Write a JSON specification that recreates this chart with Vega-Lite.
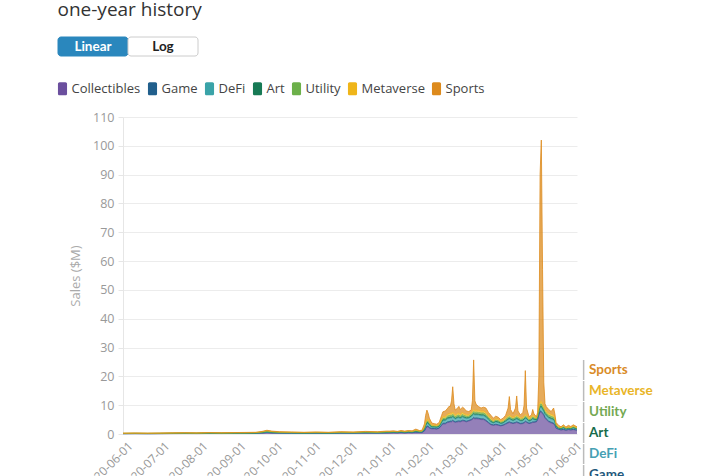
{
  "$schema": "https://vega.github.io/schema/vega-lite/v6.json",
  "padding": {"left": 56, "top": 0, "right": 5, "bottom": 0},
  "config": {"view": {"stroke": null}, "font": "Open Sans"},
  "spacing": 25,
  "columns": 1,
  "resolve": {"scale": {"color": "independent", "shape": "independent"}, "legend": {"color": "independent", "shape": "independent"}},
  "concat": [
    {
      "title": {"text": "one-year history", "anchor": "start", "fontSize": 19, "fontWeight": "normal", "color": "#333333", "font": "Open Sans", "offset": 17},
      "width": 140,
      "height": 19,
      "data": {"values": [{"scale": "Linear", "on": 1}, {"scale": "Log", "on": 0}]},
      "encoding": {"x": {"field": "scale", "type": "nominal", "sort": null, "axis": null, "scale": {"paddingInner": 0, "paddingOuter": 0}}},
      "layer": [
        {"mark": {"type": "rect", "cornerRadius": 3, "strokeWidth": 1, "xOffset": -65, "x2Offset": -65},
         "encoding": {
           "fill": {"condition": {"test": "datum.on == 1", "value": "#2a87bd"}, "value": "#ffffff"},
           "stroke": {"condition": {"test": "datum.on == 1", "value": "#2a87bd"}, "value": "#cccccc"}}},
        {"mark": {"type": "text", "font": "Lato", "fontWeight": "bold", "fontSize": 13.5, "dx": -65},
         "encoding": {
           "text": {"field": "scale"},
           "color": {"condition": {"test": "datum.on == 1", "value": "#ffffff"}, "value": "#222222"}}}
      ]
    },
    {
      "width": 454,
      "height": 317,
      "data": {"values": [
{"date":"2020-05-29","cat":"Collectibles","v":0.1},{"date":"2020-05-29","cat":"Game","v":0.02},{"date":"2020-05-29","cat":"DeFi","v":0.01},{"date":"2020-05-29","cat":"Art","v":0.05},{"date":"2020-05-29","cat":"Utility","v":0.03},{"date":"2020-05-29","cat":"Metaverse","v":0.05},{"date":"2020-05-29","cat":"Sports","v":0.04},
{"date":"2020-06-08","cat":"Collectibles","v":0.12},{"date":"2020-06-08","cat":"Game","v":0.02},{"date":"2020-06-08","cat":"DeFi","v":0.02},{"date":"2020-06-08","cat":"Art","v":0.05},{"date":"2020-06-08","cat":"Utility","v":0.03},{"date":"2020-06-08","cat":"Metaverse","v":0.05},{"date":"2020-06-08","cat":"Sports","v":0.06},
{"date":"2020-06-18","cat":"Collectibles","v":0.1},{"date":"2020-06-18","cat":"Game","v":0.02},{"date":"2020-06-18","cat":"DeFi","v":0.01},{"date":"2020-06-18","cat":"Art","v":0.05},{"date":"2020-06-18","cat":"Utility","v":0.03},{"date":"2020-06-18","cat":"Metaverse","v":0.05},{"date":"2020-06-18","cat":"Sports","v":0.04},
{"date":"2020-06-28","cat":"Collectibles","v":0.12},{"date":"2020-06-28","cat":"Game","v":0.02},{"date":"2020-06-28","cat":"DeFi","v":0.02},{"date":"2020-06-28","cat":"Art","v":0.05},{"date":"2020-06-28","cat":"Utility","v":0.03},{"date":"2020-06-28","cat":"Metaverse","v":0.05},{"date":"2020-06-28","cat":"Sports","v":0.06},
{"date":"2020-07-08","cat":"Collectibles","v":0.14},{"date":"2020-07-08","cat":"Game","v":0.03},{"date":"2020-07-08","cat":"DeFi","v":0.02},{"date":"2020-07-08","cat":"Art","v":0.06},{"date":"2020-07-08","cat":"Utility","v":0.03},{"date":"2020-07-08","cat":"Metaverse","v":0.06},{"date":"2020-07-08","cat":"Sports","v":0.06},
{"date":"2020-07-18","cat":"Collectibles","v":0.16},{"date":"2020-07-18","cat":"Game","v":0.03},{"date":"2020-07-18","cat":"DeFi","v":0.02},{"date":"2020-07-18","cat":"Art","v":0.07},{"date":"2020-07-18","cat":"Utility","v":0.04},{"date":"2020-07-18","cat":"Metaverse","v":0.07},{"date":"2020-07-18","cat":"Sports","v":0.06},
{"date":"2020-07-28","cat":"Collectibles","v":0.14},{"date":"2020-07-28","cat":"Game","v":0.03},{"date":"2020-07-28","cat":"DeFi","v":0.02},{"date":"2020-07-28","cat":"Art","v":0.06},{"date":"2020-07-28","cat":"Utility","v":0.03},{"date":"2020-07-28","cat":"Metaverse","v":0.06},{"date":"2020-07-28","cat":"Sports","v":0.06},
{"date":"2020-08-07","cat":"Collectibles","v":0.18},{"date":"2020-08-07","cat":"Game","v":0.03},{"date":"2020-08-07","cat":"DeFi","v":0.03},{"date":"2020-08-07","cat":"Art","v":0.08},{"date":"2020-08-07","cat":"Utility","v":0.04},{"date":"2020-08-07","cat":"Metaverse","v":0.08},{"date":"2020-08-07","cat":"Sports","v":0.06},
{"date":"2020-08-17","cat":"Collectibles","v":0.16},{"date":"2020-08-17","cat":"Game","v":0.03},{"date":"2020-08-17","cat":"DeFi","v":0.02},{"date":"2020-08-17","cat":"Art","v":0.07},{"date":"2020-08-17","cat":"Utility","v":0.04},{"date":"2020-08-17","cat":"Metaverse","v":0.07},{"date":"2020-08-17","cat":"Sports","v":0.06},
{"date":"2020-08-27","cat":"Collectibles","v":0.18},{"date":"2020-08-27","cat":"Game","v":0.03},{"date":"2020-08-27","cat":"DeFi","v":0.03},{"date":"2020-08-27","cat":"Art","v":0.08},{"date":"2020-08-27","cat":"Utility","v":0.04},{"date":"2020-08-27","cat":"Metaverse","v":0.08},{"date":"2020-08-27","cat":"Sports","v":0.06},
{"date":"2020-09-06","cat":"Collectibles","v":0.19},{"date":"2020-09-06","cat":"Game","v":0.04},{"date":"2020-09-06","cat":"DeFi","v":0.03},{"date":"2020-09-06","cat":"Art","v":0.08},{"date":"2020-09-06","cat":"Utility","v":0.04},{"date":"2020-09-06","cat":"Metaverse","v":0.08},{"date":"2020-09-06","cat":"Sports","v":0.09},
{"date":"2020-09-14","cat":"Collectibles","v":0.21},{"date":"2020-09-14","cat":"Game","v":0.04},{"date":"2020-09-14","cat":"DeFi","v":0.03},{"date":"2020-09-14","cat":"Art","v":0.09},{"date":"2020-09-14","cat":"Utility","v":0.05},{"date":"2020-09-14","cat":"Metaverse","v":0.09},{"date":"2020-09-14","cat":"Sports","v":0.09},
{"date":"2020-09-19","cat":"Collectibles","v":0.32},{"date":"2020-09-19","cat":"Game","v":0.06},{"date":"2020-09-19","cat":"DeFi","v":0.05},{"date":"2020-09-19","cat":"Art","v":0.13},{"date":"2020-09-19","cat":"Utility","v":0.07},{"date":"2020-09-19","cat":"Metaverse","v":0.14},{"date":"2020-09-19","cat":"Sports","v":0.13},
{"date":"2020-09-23","cat":"Collectibles","v":0.45},{"date":"2020-09-23","cat":"Game","v":0.09},{"date":"2020-09-23","cat":"DeFi","v":0.07},{"date":"2020-09-23","cat":"Art","v":0.2},{"date":"2020-09-23","cat":"Utility","v":0.1},{"date":"2020-09-23","cat":"Metaverse","v":0.2},{"date":"2020-09-23","cat":"Sports","v":0.19},
{"date":"2020-09-27","cat":"Collectibles","v":0.35},{"date":"2020-09-27","cat":"Game","v":0.07},{"date":"2020-09-27","cat":"DeFi","v":0.05},{"date":"2020-09-27","cat":"Art","v":0.15},{"date":"2020-09-27","cat":"Utility","v":0.08},{"date":"2020-09-27","cat":"Metaverse","v":0.15},{"date":"2020-09-27","cat":"Sports","v":0.15},
{"date":"2020-10-03","cat":"Collectibles","v":0.28},{"date":"2020-10-03","cat":"Game","v":0.05},{"date":"2020-10-03","cat":"DeFi","v":0.04},{"date":"2020-10-03","cat":"Art","v":0.12},{"date":"2020-10-03","cat":"Utility","v":0.06},{"date":"2020-10-03","cat":"Metaverse","v":0.12},{"date":"2020-10-03","cat":"Sports","v":0.13},
{"date":"2020-10-13","cat":"Collectibles","v":0.25},{"date":"2020-10-13","cat":"Game","v":0.05},{"date":"2020-10-13","cat":"DeFi","v":0.04},{"date":"2020-10-13","cat":"Art","v":0.1},{"date":"2020-10-13","cat":"Utility","v":0.06},{"date":"2020-10-13","cat":"Metaverse","v":0.1},{"date":"2020-10-13","cat":"Sports","v":0.1},
{"date":"2020-10-23","cat":"Collectibles","v":0.21},{"date":"2020-10-23","cat":"Game","v":0.04},{"date":"2020-10-23","cat":"DeFi","v":0.03},{"date":"2020-10-23","cat":"Art","v":0.09},{"date":"2020-10-23","cat":"Utility","v":0.05},{"date":"2020-10-23","cat":"Metaverse","v":0.09},{"date":"2020-10-23","cat":"Sports","v":0.09},
{"date":"2020-11-02","cat":"Collectibles","v":0.25},{"date":"2020-11-02","cat":"Game","v":0.05},{"date":"2020-11-02","cat":"DeFi","v":0.04},{"date":"2020-11-02","cat":"Art","v":0.1},{"date":"2020-11-02","cat":"Utility","v":0.06},{"date":"2020-11-02","cat":"Metaverse","v":0.1},{"date":"2020-11-02","cat":"Sports","v":0.1},
{"date":"2020-11-12","cat":"Collectibles","v":0.21},{"date":"2020-11-12","cat":"Game","v":0.04},{"date":"2020-11-12","cat":"DeFi","v":0.03},{"date":"2020-11-12","cat":"Art","v":0.09},{"date":"2020-11-12","cat":"Utility","v":0.05},{"date":"2020-11-12","cat":"Metaverse","v":0.09},{"date":"2020-11-12","cat":"Sports","v":0.09},
{"date":"2020-11-22","cat":"Collectibles","v":0.28},{"date":"2020-11-22","cat":"Game","v":0.05},{"date":"2020-11-22","cat":"DeFi","v":0.04},{"date":"2020-11-22","cat":"Art","v":0.12},{"date":"2020-11-22","cat":"Utility","v":0.06},{"date":"2020-11-22","cat":"Metaverse","v":0.12},{"date":"2020-11-22","cat":"Sports","v":0.13},
{"date":"2020-12-02","cat":"Collectibles","v":0.25},{"date":"2020-12-02","cat":"Game","v":0.05},{"date":"2020-12-02","cat":"DeFi","v":0.04},{"date":"2020-12-02","cat":"Art","v":0.1},{"date":"2020-12-02","cat":"Utility","v":0.06},{"date":"2020-12-02","cat":"Metaverse","v":0.1},{"date":"2020-12-02","cat":"Sports","v":0.1},
{"date":"2020-12-12","cat":"Collectibles","v":0.32},{"date":"2020-12-12","cat":"Game","v":0.06},{"date":"2020-12-12","cat":"DeFi","v":0.05},{"date":"2020-12-12","cat":"Art","v":0.13},{"date":"2020-12-12","cat":"Utility","v":0.07},{"date":"2020-12-12","cat":"Metaverse","v":0.14},{"date":"2020-12-12","cat":"Sports","v":0.13},
{"date":"2020-12-22","cat":"Collectibles","v":0.28},{"date":"2020-12-22","cat":"Game","v":0.05},{"date":"2020-12-22","cat":"DeFi","v":0.04},{"date":"2020-12-22","cat":"Art","v":0.12},{"date":"2020-12-22","cat":"Utility","v":0.06},{"date":"2020-12-22","cat":"Metaverse","v":0.12},{"date":"2020-12-22","cat":"Sports","v":0.13},
{"date":"2020-12-29","cat":"Collectibles","v":0.35},{"date":"2020-12-29","cat":"Game","v":0.07},{"date":"2020-12-29","cat":"DeFi","v":0.05},{"date":"2020-12-29","cat":"Art","v":0.15},{"date":"2020-12-29","cat":"Utility","v":0.08},{"date":"2020-12-29","cat":"Metaverse","v":0.15},{"date":"2020-12-29","cat":"Sports","v":0.15},
{"date":"2021-01-01","cat":"Collectibles","v":0.4},{"date":"2021-01-01","cat":"Game","v":0.04},{"date":"2021-01-01","cat":"DeFi","v":0.15},{"date":"2021-01-01","cat":"Art","v":0.05},{"date":"2021-01-01","cat":"Utility","v":0.09},{"date":"2021-01-01","cat":"Metaverse","v":0.1},{"date":"2021-01-01","cat":"Sports","v":0.17},
{"date":"2021-01-04","cat":"Collectibles","v":0.45},{"date":"2021-01-04","cat":"Game","v":0.04},{"date":"2021-01-04","cat":"DeFi","v":0.15},{"date":"2021-01-04","cat":"Art","v":0.05},{"date":"2021-01-04","cat":"Utility","v":0.09},{"date":"2021-01-04","cat":"Metaverse","v":0.1},{"date":"2021-01-04","cat":"Sports","v":0.22},
{"date":"2021-01-07","cat":"Collectibles","v":0.4},{"date":"2021-01-07","cat":"Game","v":0.04},{"date":"2021-01-07","cat":"DeFi","v":0.15},{"date":"2021-01-07","cat":"Art","v":0.05},{"date":"2021-01-07","cat":"Utility","v":0.09},{"date":"2021-01-07","cat":"Metaverse","v":0.1},{"date":"2021-01-07","cat":"Sports","v":0.07},
{"date":"2021-01-10","cat":"Collectibles","v":0.5},{"date":"2021-01-10","cat":"Game","v":0.05},{"date":"2021-01-10","cat":"DeFi","v":0.18},{"date":"2021-01-10","cat":"Art","v":0.06},{"date":"2021-01-10","cat":"Utility","v":0.1},{"date":"2021-01-10","cat":"Metaverse","v":0.12},{"date":"2021-01-10","cat":"Sports","v":0.19},
{"date":"2021-01-13","cat":"Collectibles","v":0.4},{"date":"2021-01-13","cat":"Game","v":0.04},{"date":"2021-01-13","cat":"DeFi","v":0.15},{"date":"2021-01-13","cat":"Art","v":0.05},{"date":"2021-01-13","cat":"Utility","v":0.09},{"date":"2021-01-13","cat":"Metaverse","v":0.1},{"date":"2021-01-13","cat":"Sports","v":0.17},
{"date":"2021-01-16","cat":"Collectibles","v":0.5},{"date":"2021-01-16","cat":"Game","v":0.05},{"date":"2021-01-16","cat":"DeFi","v":0.18},{"date":"2021-01-16","cat":"Art","v":0.06},{"date":"2021-01-16","cat":"Utility","v":0.1},{"date":"2021-01-16","cat":"Metaverse","v":0.12},{"date":"2021-01-16","cat":"Sports","v":0.19},
{"date":"2021-01-19","cat":"Collectibles","v":0.45},{"date":"2021-01-19","cat":"Game","v":0.04},{"date":"2021-01-19","cat":"DeFi","v":0.15},{"date":"2021-01-19","cat":"Art","v":0.05},{"date":"2021-01-19","cat":"Utility","v":0.09},{"date":"2021-01-19","cat":"Metaverse","v":0.1},{"date":"2021-01-19","cat":"Sports","v":0.22},
{"date":"2021-01-22","cat":"Collectibles","v":0.6},{"date":"2021-01-22","cat":"Game","v":0.06},{"date":"2021-01-22","cat":"DeFi","v":0.24},{"date":"2021-01-22","cat":"Art","v":0.08},{"date":"2021-01-22","cat":"Utility","v":0.14},{"date":"2021-01-22","cat":"Metaverse","v":0.16},{"date":"2021-01-22","cat":"Sports","v":0.42},
{"date":"2021-01-25","cat":"Collectibles","v":0.5},{"date":"2021-01-25","cat":"Game","v":0.05},{"date":"2021-01-25","cat":"DeFi","v":0.18},{"date":"2021-01-25","cat":"Art","v":0.06},{"date":"2021-01-25","cat":"Utility","v":0.1},{"date":"2021-01-25","cat":"Metaverse","v":0.12},{"date":"2021-01-25","cat":"Sports","v":0.19},
{"date":"2021-01-27","cat":"Collectibles","v":0.5},{"date":"2021-01-27","cat":"Game","v":0.05},{"date":"2021-01-27","cat":"DeFi","v":0.18},{"date":"2021-01-27","cat":"Art","v":0.06},{"date":"2021-01-27","cat":"Utility","v":0.1},{"date":"2021-01-27","cat":"Metaverse","v":0.12},{"date":"2021-01-27","cat":"Sports","v":0.29},
{"date":"2021-01-29","cat":"Collectibles","v":1.0},{"date":"2021-01-29","cat":"Game","v":0.12},{"date":"2021-01-29","cat":"DeFi","v":0.45},{"date":"2021-01-29","cat":"Art","v":0.15},{"date":"2021-01-29","cat":"Utility","v":0.26},{"date":"2021-01-29","cat":"Metaverse","v":0.3},{"date":"2021-01-29","cat":"Sports","v":1.22},
{"date":"2021-01-30","cat":"Collectibles","v":1.8},{"date":"2021-01-30","cat":"Game","v":0.2},{"date":"2021-01-30","cat":"DeFi","v":0.75},{"date":"2021-01-30","cat":"Art","v":0.25},{"date":"2021-01-30","cat":"Utility","v":0.43},{"date":"2021-01-30","cat":"Metaverse","v":0.5},{"date":"2021-01-30","cat":"Sports","v":2.57},
{"date":"2021-01-31","cat":"Collectibles","v":2.5},{"date":"2021-01-31","cat":"Game","v":0.24},{"date":"2021-01-31","cat":"DeFi","v":0.9},{"date":"2021-01-31","cat":"Art","v":0.3},{"date":"2021-01-31","cat":"Utility","v":0.51},{"date":"2021-01-31","cat":"Metaverse","v":0.6},{"date":"2021-01-31","cat":"Sports","v":3.25},
{"date":"2021-02-01","cat":"Collectibles","v":2.5},{"date":"2021-02-01","cat":"Game","v":0.24},{"date":"2021-02-01","cat":"DeFi","v":0.9},{"date":"2021-02-01","cat":"Art","v":0.3},{"date":"2021-02-01","cat":"Utility","v":0.51},{"date":"2021-02-01","cat":"Metaverse","v":0.6},{"date":"2021-02-01","cat":"Sports","v":2.15},
{"date":"2021-02-02","cat":"Collectibles","v":2.0},{"date":"2021-02-02","cat":"Game","v":0.2},{"date":"2021-02-02","cat":"DeFi","v":0.75},{"date":"2021-02-02","cat":"Art","v":0.25},{"date":"2021-02-02","cat":"Utility","v":0.43},{"date":"2021-02-02","cat":"Metaverse","v":0.5},{"date":"2021-02-02","cat":"Sports","v":1.37},
{"date":"2021-02-04","cat":"Collectibles","v":1.8},{"date":"2021-02-04","cat":"Game","v":0.12},{"date":"2021-02-04","cat":"DeFi","v":0.45},{"date":"2021-02-04","cat":"Art","v":0.15},{"date":"2021-02-04","cat":"Utility","v":0.26},{"date":"2021-02-04","cat":"Metaverse","v":0.3},{"date":"2021-02-04","cat":"Sports","v":0.72},
{"date":"2021-02-06","cat":"Collectibles","v":1.8},{"date":"2021-02-06","cat":"Game","v":0.12},{"date":"2021-02-06","cat":"DeFi","v":0.45},{"date":"2021-02-06","cat":"Art","v":0.15},{"date":"2021-02-06","cat":"Utility","v":0.26},{"date":"2021-02-06","cat":"Metaverse","v":0.3},{"date":"2021-02-06","cat":"Sports","v":0.52},
{"date":"2021-02-08","cat":"Collectibles","v":1.7},{"date":"2021-02-08","cat":"Game","v":0.12},{"date":"2021-02-08","cat":"DeFi","v":0.45},{"date":"2021-02-08","cat":"Art","v":0.15},{"date":"2021-02-08","cat":"Utility","v":0.26},{"date":"2021-02-08","cat":"Metaverse","v":0.3},{"date":"2021-02-08","cat":"Sports","v":0.42},
{"date":"2021-02-10","cat":"Collectibles","v":2.0},{"date":"2021-02-10","cat":"Game","v":0.12},{"date":"2021-02-10","cat":"DeFi","v":0.45},{"date":"2021-02-10","cat":"Art","v":0.15},{"date":"2021-02-10","cat":"Utility","v":0.26},{"date":"2021-02-10","cat":"Metaverse","v":0.3},{"date":"2021-02-10","cat":"Sports","v":0.72},
{"date":"2021-02-12","cat":"Collectibles","v":3.0},{"date":"2021-02-12","cat":"Game","v":0.2},{"date":"2021-02-12","cat":"DeFi","v":0.75},{"date":"2021-02-12","cat":"Art","v":0.25},{"date":"2021-02-12","cat":"Utility","v":0.43},{"date":"2021-02-12","cat":"Metaverse","v":0.5},{"date":"2021-02-12","cat":"Sports","v":1.37},
{"date":"2021-02-13","cat":"Collectibles","v":3.5},{"date":"2021-02-13","cat":"Game","v":0.24},{"date":"2021-02-13","cat":"DeFi","v":0.9},{"date":"2021-02-13","cat":"Art","v":0.3},{"date":"2021-02-13","cat":"Utility","v":0.51},{"date":"2021-02-13","cat":"Metaverse","v":0.6},{"date":"2021-02-13","cat":"Sports","v":1.65},
{"date":"2021-02-15","cat":"Collectibles","v":3.5},{"date":"2021-02-15","cat":"Game","v":0.24},{"date":"2021-02-15","cat":"DeFi","v":0.9},{"date":"2021-02-15","cat":"Art","v":0.3},{"date":"2021-02-15","cat":"Utility","v":0.51},{"date":"2021-02-15","cat":"Metaverse","v":0.6},{"date":"2021-02-15","cat":"Sports","v":1.95},
{"date":"2021-02-17","cat":"Collectibles","v":4.0},{"date":"2021-02-17","cat":"Game","v":0.28},{"date":"2021-02-17","cat":"DeFi","v":1.05},{"date":"2021-02-17","cat":"Art","v":0.35},{"date":"2021-02-17","cat":"Utility","v":0.6},{"date":"2021-02-17","cat":"Metaverse","v":0.7},{"date":"2021-02-17","cat":"Sports","v":2.02},
{"date":"2021-02-18","cat":"Collectibles","v":4.0},{"date":"2021-02-18","cat":"Game","v":0.28},{"date":"2021-02-18","cat":"DeFi","v":1.05},{"date":"2021-02-18","cat":"Art","v":0.35},{"date":"2021-02-18","cat":"Utility","v":0.6},{"date":"2021-02-18","cat":"Metaverse","v":0.7},{"date":"2021-02-18","cat":"Sports","v":2.62},
{"date":"2021-02-19","cat":"Collectibles","v":4.2},{"date":"2021-02-19","cat":"Game","v":0.28},{"date":"2021-02-19","cat":"DeFi","v":1.05},{"date":"2021-02-19","cat":"Art","v":0.35},{"date":"2021-02-19","cat":"Utility","v":0.6},{"date":"2021-02-19","cat":"Metaverse","v":0.7},{"date":"2021-02-19","cat":"Sports","v":2.32},
{"date":"2021-02-20","cat":"Collectibles","v":4.2},{"date":"2021-02-20","cat":"Game","v":0.28},{"date":"2021-02-20","cat":"DeFi","v":1.05},{"date":"2021-02-20","cat":"Art","v":0.35},{"date":"2021-02-20","cat":"Utility","v":0.6},{"date":"2021-02-20","cat":"Metaverse","v":0.7},{"date":"2021-02-20","cat":"Sports","v":4.32},
{"date":"2021-02-21","cat":"Collectibles","v":4.5},{"date":"2021-02-21","cat":"Game","v":0.28},{"date":"2021-02-21","cat":"DeFi","v":1.05},{"date":"2021-02-21","cat":"Art","v":0.35},{"date":"2021-02-21","cat":"Utility","v":0.6},{"date":"2021-02-21","cat":"Metaverse","v":0.7},{"date":"2021-02-21","cat":"Sports","v":8.92},
{"date":"2021-02-22","cat":"Collectibles","v":4.2},{"date":"2021-02-22","cat":"Game","v":0.28},{"date":"2021-02-22","cat":"DeFi","v":1.05},{"date":"2021-02-22","cat":"Art","v":0.35},{"date":"2021-02-22","cat":"Utility","v":0.6},{"date":"2021-02-22","cat":"Metaverse","v":0.7},{"date":"2021-02-22","cat":"Sports","v":3.32},
{"date":"2021-02-23","cat":"Collectibles","v":4.0},{"date":"2021-02-23","cat":"Game","v":0.24},{"date":"2021-02-23","cat":"DeFi","v":0.9},{"date":"2021-02-23","cat":"Art","v":0.3},{"date":"2021-02-23","cat":"Utility","v":0.51},{"date":"2021-02-23","cat":"Metaverse","v":0.6},{"date":"2021-02-23","cat":"Sports","v":1.75},
{"date":"2021-02-25","cat":"Collectibles","v":4.2},{"date":"2021-02-25","cat":"Game","v":0.28},{"date":"2021-02-25","cat":"DeFi","v":1.05},{"date":"2021-02-25","cat":"Art","v":0.35},{"date":"2021-02-25","cat":"Utility","v":0.6},{"date":"2021-02-25","cat":"Metaverse","v":0.7},{"date":"2021-02-25","cat":"Sports","v":1.82},
{"date":"2021-02-26","cat":"Collectibles","v":4.3},{"date":"2021-02-26","cat":"Game","v":0.28},{"date":"2021-02-26","cat":"DeFi","v":1.05},{"date":"2021-02-26","cat":"Art","v":0.35},{"date":"2021-02-26","cat":"Utility","v":0.6},{"date":"2021-02-26","cat":"Metaverse","v":0.7},{"date":"2021-02-26","cat":"Sports","v":2.32},
{"date":"2021-02-27","cat":"Collectibles","v":4.2},{"date":"2021-02-27","cat":"Game","v":0.24},{"date":"2021-02-27","cat":"DeFi","v":0.9},{"date":"2021-02-27","cat":"Art","v":0.3},{"date":"2021-02-27","cat":"Utility","v":0.51},{"date":"2021-02-27","cat":"Metaverse","v":0.6},{"date":"2021-02-27","cat":"Sports","v":1.75},
{"date":"2021-03-01","cat":"Collectibles","v":4.5},{"date":"2021-03-01","cat":"Game","v":0.28},{"date":"2021-03-01","cat":"DeFi","v":1.05},{"date":"2021-03-01","cat":"Art","v":0.35},{"date":"2021-03-01","cat":"Utility","v":0.6},{"date":"2021-03-01","cat":"Metaverse","v":0.7},{"date":"2021-03-01","cat":"Sports","v":1.82},
{"date":"2021-03-02","cat":"Collectibles","v":4.5},{"date":"2021-03-02","cat":"Game","v":0.24},{"date":"2021-03-02","cat":"DeFi","v":0.9},{"date":"2021-03-02","cat":"Art","v":0.3},{"date":"2021-03-02","cat":"Utility","v":0.51},{"date":"2021-03-02","cat":"Metaverse","v":0.6},{"date":"2021-03-02","cat":"Sports","v":1.95},
{"date":"2021-03-04","cat":"Collectibles","v":4.2},{"date":"2021-03-04","cat":"Game","v":0.24},{"date":"2021-03-04","cat":"DeFi","v":0.9},{"date":"2021-03-04","cat":"Art","v":0.3},{"date":"2021-03-04","cat":"Utility","v":0.51},{"date":"2021-03-04","cat":"Metaverse","v":0.6},{"date":"2021-03-04","cat":"Sports","v":1.25},
{"date":"2021-03-06","cat":"Collectibles","v":4.5},{"date":"2021-03-06","cat":"Game","v":0.2},{"date":"2021-03-06","cat":"DeFi","v":0.75},{"date":"2021-03-06","cat":"Art","v":0.25},{"date":"2021-03-06","cat":"Utility","v":0.43},{"date":"2021-03-06","cat":"Metaverse","v":0.5},{"date":"2021-03-06","cat":"Sports","v":1.17},
{"date":"2021-03-08","cat":"Collectibles","v":4.8},{"date":"2021-03-08","cat":"Game","v":0.24},{"date":"2021-03-08","cat":"DeFi","v":0.9},{"date":"2021-03-08","cat":"Art","v":0.3},{"date":"2021-03-08","cat":"Utility","v":0.51},{"date":"2021-03-08","cat":"Metaverse","v":0.6},{"date":"2021-03-08","cat":"Sports","v":0.95},
{"date":"2021-03-09","cat":"Collectibles","v":5.0},{"date":"2021-03-09","cat":"Game","v":0.28},{"date":"2021-03-09","cat":"DeFi","v":1.05},{"date":"2021-03-09","cat":"Art","v":0.35},{"date":"2021-03-09","cat":"Utility","v":0.6},{"date":"2021-03-09","cat":"Metaverse","v":0.7},{"date":"2021-03-09","cat":"Sports","v":3.52},
{"date":"2021-03-10","cat":"Collectibles","v":5.5},{"date":"2021-03-10","cat":"Game","v":0.28},{"date":"2021-03-10","cat":"DeFi","v":1.05},{"date":"2021-03-10","cat":"Art","v":0.35},{"date":"2021-03-10","cat":"Utility","v":0.6},{"date":"2021-03-10","cat":"Metaverse","v":0.7},{"date":"2021-03-10","cat":"Sports","v":17.22},
{"date":"2021-03-11","cat":"Collectibles","v":5.2},{"date":"2021-03-11","cat":"Game","v":0.28},{"date":"2021-03-11","cat":"DeFi","v":1.05},{"date":"2021-03-11","cat":"Art","v":0.35},{"date":"2021-03-11","cat":"Utility","v":0.6},{"date":"2021-03-11","cat":"Metaverse","v":0.7},{"date":"2021-03-11","cat":"Sports","v":3.32},
{"date":"2021-03-12","cat":"Collectibles","v":5.3},{"date":"2021-03-12","cat":"Game","v":0.28},{"date":"2021-03-12","cat":"DeFi","v":1.05},{"date":"2021-03-12","cat":"Art","v":0.35},{"date":"2021-03-12","cat":"Utility","v":0.6},{"date":"2021-03-12","cat":"Metaverse","v":0.7},{"date":"2021-03-12","cat":"Sports","v":2.02},
{"date":"2021-03-14","cat":"Collectibles","v":5.2},{"date":"2021-03-14","cat":"Game","v":0.28},{"date":"2021-03-14","cat":"DeFi","v":1.05},{"date":"2021-03-14","cat":"Art","v":0.35},{"date":"2021-03-14","cat":"Utility","v":0.6},{"date":"2021-03-14","cat":"Metaverse","v":0.7},{"date":"2021-03-14","cat":"Sports","v":1.32},
{"date":"2021-03-16","cat":"Collectibles","v":5.0},{"date":"2021-03-16","cat":"Game","v":0.28},{"date":"2021-03-16","cat":"DeFi","v":1.05},{"date":"2021-03-16","cat":"Art","v":0.35},{"date":"2021-03-16","cat":"Utility","v":0.6},{"date":"2021-03-16","cat":"Metaverse","v":0.7},{"date":"2021-03-16","cat":"Sports","v":1.02},
{"date":"2021-03-18","cat":"Collectibles","v":5.0},{"date":"2021-03-18","cat":"Game","v":0.28},{"date":"2021-03-18","cat":"DeFi","v":1.05},{"date":"2021-03-18","cat":"Art","v":0.35},{"date":"2021-03-18","cat":"Utility","v":0.6},{"date":"2021-03-18","cat":"Metaverse","v":0.7},{"date":"2021-03-18","cat":"Sports","v":1.32},
{"date":"2021-03-20","cat":"Collectibles","v":4.5},{"date":"2021-03-20","cat":"Game","v":0.28},{"date":"2021-03-20","cat":"DeFi","v":1.05},{"date":"2021-03-20","cat":"Art","v":0.35},{"date":"2021-03-20","cat":"Utility","v":0.6},{"date":"2021-03-20","cat":"Metaverse","v":0.7},{"date":"2021-03-20","cat":"Sports","v":1.52},
{"date":"2021-03-22","cat":"Collectibles","v":3.8},{"date":"2021-03-22","cat":"Game","v":0.24},{"date":"2021-03-22","cat":"DeFi","v":0.9},{"date":"2021-03-22","cat":"Art","v":0.3},{"date":"2021-03-22","cat":"Utility","v":0.51},{"date":"2021-03-22","cat":"Metaverse","v":0.6},{"date":"2021-03-22","cat":"Sports","v":1.15},
{"date":"2021-03-24","cat":"Collectibles","v":3.2},{"date":"2021-03-24","cat":"Game","v":0.2},{"date":"2021-03-24","cat":"DeFi","v":0.75},{"date":"2021-03-24","cat":"Art","v":0.25},{"date":"2021-03-24","cat":"Utility","v":0.43},{"date":"2021-03-24","cat":"Metaverse","v":0.5},{"date":"2021-03-24","cat":"Sports","v":1.17},
{"date":"2021-03-26","cat":"Collectibles","v":3.0},{"date":"2021-03-26","cat":"Game","v":0.16},{"date":"2021-03-26","cat":"DeFi","v":0.6},{"date":"2021-03-26","cat":"Art","v":0.2},{"date":"2021-03-26","cat":"Utility","v":0.34},{"date":"2021-03-26","cat":"Metaverse","v":0.4},{"date":"2021-03-26","cat":"Sports","v":0.8},
{"date":"2021-03-28","cat":"Collectibles","v":3.2},{"date":"2021-03-28","cat":"Game","v":0.2},{"date":"2021-03-28","cat":"DeFi","v":0.75},{"date":"2021-03-28","cat":"Art","v":0.25},{"date":"2021-03-28","cat":"Utility","v":0.43},{"date":"2021-03-28","cat":"Metaverse","v":0.5},{"date":"2021-03-28","cat":"Sports","v":0.87},
{"date":"2021-03-30","cat":"Collectibles","v":3.0},{"date":"2021-03-30","cat":"Game","v":0.2},{"date":"2021-03-30","cat":"DeFi","v":0.75},{"date":"2021-03-30","cat":"Art","v":0.25},{"date":"2021-03-30","cat":"Utility","v":0.43},{"date":"2021-03-30","cat":"Metaverse","v":0.5},{"date":"2021-03-30","cat":"Sports","v":0.67},
{"date":"2021-04-01","cat":"Collectibles","v":2.8},{"date":"2021-04-01","cat":"Game","v":0.16},{"date":"2021-04-01","cat":"DeFi","v":0.6},{"date":"2021-04-01","cat":"Art","v":0.2},{"date":"2021-04-01","cat":"Utility","v":0.34},{"date":"2021-04-01","cat":"Metaverse","v":0.4},{"date":"2021-04-01","cat":"Sports","v":0.5},
{"date":"2021-04-03","cat":"Collectibles","v":3.0},{"date":"2021-04-03","cat":"Game","v":0.16},{"date":"2021-04-03","cat":"DeFi","v":0.6},{"date":"2021-04-03","cat":"Art","v":0.2},{"date":"2021-04-03","cat":"Utility","v":0.34},{"date":"2021-04-03","cat":"Metaverse","v":0.4},{"date":"2021-04-03","cat":"Sports","v":0.8},
{"date":"2021-04-05","cat":"Collectibles","v":3.4},{"date":"2021-04-05","cat":"Game","v":0.2},{"date":"2021-04-05","cat":"DeFi","v":0.75},{"date":"2021-04-05","cat":"Art","v":0.25},{"date":"2021-04-05","cat":"Utility","v":0.43},{"date":"2021-04-05","cat":"Metaverse","v":0.5},{"date":"2021-04-05","cat":"Sports","v":0.97},
{"date":"2021-04-07","cat":"Collectibles","v":3.8},{"date":"2021-04-07","cat":"Game","v":0.24},{"date":"2021-04-07","cat":"DeFi","v":0.9},{"date":"2021-04-07","cat":"Art","v":0.3},{"date":"2021-04-07","cat":"Utility","v":0.51},{"date":"2021-04-07","cat":"Metaverse","v":0.6},{"date":"2021-04-07","cat":"Sports","v":2.65},
{"date":"2021-04-08","cat":"Collectibles","v":4.0},{"date":"2021-04-08","cat":"Game","v":0.24},{"date":"2021-04-08","cat":"DeFi","v":0.9},{"date":"2021-04-08","cat":"Art","v":0.3},{"date":"2021-04-08","cat":"Utility","v":0.51},{"date":"2021-04-08","cat":"Metaverse","v":0.6},{"date":"2021-04-08","cat":"Sports","v":6.45},
{"date":"2021-04-09","cat":"Collectibles","v":3.8},{"date":"2021-04-09","cat":"Game","v":0.24},{"date":"2021-04-09","cat":"DeFi","v":0.9},{"date":"2021-04-09","cat":"Art","v":0.3},{"date":"2021-04-09","cat":"Utility","v":0.51},{"date":"2021-04-09","cat":"Metaverse","v":0.6},{"date":"2021-04-09","cat":"Sports","v":2.15},
{"date":"2021-04-11","cat":"Collectibles","v":3.6},{"date":"2021-04-11","cat":"Game","v":0.2},{"date":"2021-04-11","cat":"DeFi","v":0.75},{"date":"2021-04-11","cat":"Art","v":0.25},{"date":"2021-04-11","cat":"Utility","v":0.43},{"date":"2021-04-11","cat":"Metaverse","v":0.5},{"date":"2021-04-11","cat":"Sports","v":1.27},
{"date":"2021-04-13","cat":"Collectibles","v":3.8},{"date":"2021-04-13","cat":"Game","v":0.24},{"date":"2021-04-13","cat":"DeFi","v":0.9},{"date":"2021-04-13","cat":"Art","v":0.3},{"date":"2021-04-13","cat":"Utility","v":0.51},{"date":"2021-04-13","cat":"Metaverse","v":0.6},{"date":"2021-04-13","cat":"Sports","v":2.65},
{"date":"2021-04-14","cat":"Collectibles","v":4.0},{"date":"2021-04-14","cat":"Game","v":0.24},{"date":"2021-04-14","cat":"DeFi","v":0.9},{"date":"2021-04-14","cat":"Art","v":0.3},{"date":"2021-04-14","cat":"Utility","v":0.51},{"date":"2021-04-14","cat":"Metaverse","v":0.6},{"date":"2021-04-14","cat":"Sports","v":6.65},
{"date":"2021-04-15","cat":"Collectibles","v":3.8},{"date":"2021-04-15","cat":"Game","v":0.24},{"date":"2021-04-15","cat":"DeFi","v":0.9},{"date":"2021-04-15","cat":"Art","v":0.3},{"date":"2021-04-15","cat":"Utility","v":0.51},{"date":"2021-04-15","cat":"Metaverse","v":0.6},{"date":"2021-04-15","cat":"Sports","v":1.65},
{"date":"2021-04-17","cat":"Collectibles","v":3.5},{"date":"2021-04-17","cat":"Game","v":0.2},{"date":"2021-04-17","cat":"DeFi","v":0.75},{"date":"2021-04-17","cat":"Art","v":0.25},{"date":"2021-04-17","cat":"Utility","v":0.43},{"date":"2021-04-17","cat":"Metaverse","v":0.5},{"date":"2021-04-17","cat":"Sports","v":0.97},
{"date":"2021-04-19","cat":"Collectibles","v":3.6},{"date":"2021-04-19","cat":"Game","v":0.2},{"date":"2021-04-19","cat":"DeFi","v":0.75},{"date":"2021-04-19","cat":"Art","v":0.25},{"date":"2021-04-19","cat":"Utility","v":0.43},{"date":"2021-04-19","cat":"Metaverse","v":0.5},{"date":"2021-04-19","cat":"Sports","v":1.77},
{"date":"2021-04-20","cat":"Collectibles","v":3.8},{"date":"2021-04-20","cat":"Game","v":0.24},{"date":"2021-04-20","cat":"DeFi","v":0.9},{"date":"2021-04-20","cat":"Art","v":0.3},{"date":"2021-04-20","cat":"Utility","v":0.51},{"date":"2021-04-20","cat":"Metaverse","v":0.6},{"date":"2021-04-20","cat":"Sports","v":3.65},
{"date":"2021-04-21","cat":"Collectibles","v":4.2},{"date":"2021-04-21","cat":"Game","v":0.24},{"date":"2021-04-21","cat":"DeFi","v":0.9},{"date":"2021-04-21","cat":"Art","v":0.3},{"date":"2021-04-21","cat":"Utility","v":0.51},{"date":"2021-04-21","cat":"Metaverse","v":0.6},{"date":"2021-04-21","cat":"Sports","v":15.25},
{"date":"2021-04-22","cat":"Collectibles","v":4.0},{"date":"2021-04-22","cat":"Game","v":0.24},{"date":"2021-04-22","cat":"DeFi","v":0.9},{"date":"2021-04-22","cat":"Art","v":0.3},{"date":"2021-04-22","cat":"Utility","v":0.51},{"date":"2021-04-22","cat":"Metaverse","v":0.6},{"date":"2021-04-22","cat":"Sports","v":2.45},
{"date":"2021-04-24","cat":"Collectibles","v":3.6},{"date":"2021-04-24","cat":"Game","v":0.16},{"date":"2021-04-24","cat":"DeFi","v":0.6},{"date":"2021-04-24","cat":"Art","v":0.2},{"date":"2021-04-24","cat":"Utility","v":0.34},{"date":"2021-04-24","cat":"Metaverse","v":0.4},{"date":"2021-04-24","cat":"Sports","v":0.7},
{"date":"2021-04-26","cat":"Collectibles","v":3.8},{"date":"2021-04-26","cat":"Game","v":0.2},{"date":"2021-04-26","cat":"DeFi","v":0.75},{"date":"2021-04-26","cat":"Art","v":0.25},{"date":"2021-04-26","cat":"Utility","v":0.43},{"date":"2021-04-26","cat":"Metaverse","v":0.5},{"date":"2021-04-26","cat":"Sports","v":0.67},
{"date":"2021-04-27","cat":"Collectibles","v":4.0},{"date":"2021-04-27","cat":"Game","v":0.24},{"date":"2021-04-27","cat":"DeFi","v":0.9},{"date":"2021-04-27","cat":"Art","v":0.3},{"date":"2021-04-27","cat":"Utility","v":0.51},{"date":"2021-04-27","cat":"Metaverse","v":0.6},{"date":"2021-04-27","cat":"Sports","v":1.95},
{"date":"2021-04-28","cat":"Collectibles","v":4.0},{"date":"2021-04-28","cat":"Game","v":0.2},{"date":"2021-04-28","cat":"DeFi","v":0.75},{"date":"2021-04-28","cat":"Art","v":0.25},{"date":"2021-04-28","cat":"Utility","v":0.43},{"date":"2021-04-28","cat":"Metaverse","v":0.5},{"date":"2021-04-28","cat":"Sports","v":0.87},
{"date":"2021-04-30","cat":"Collectibles","v":4.2},{"date":"2021-04-30","cat":"Game","v":0.12},{"date":"2021-04-30","cat":"DeFi","v":0.45},{"date":"2021-04-30","cat":"Art","v":0.15},{"date":"2021-04-30","cat":"Utility","v":0.26},{"date":"2021-04-30","cat":"Metaverse","v":0.3},{"date":"2021-04-30","cat":"Sports","v":0.52},
{"date":"2021-05-01","cat":"Collectibles","v":5.0},{"date":"2021-05-01","cat":"Game","v":0.16},{"date":"2021-05-01","cat":"DeFi","v":0.6},{"date":"2021-05-01","cat":"Art","v":0.2},{"date":"2021-05-01","cat":"Utility","v":0.34},{"date":"2021-05-01","cat":"Metaverse","v":0.4},{"date":"2021-05-01","cat":"Sports","v":0.8},
{"date":"2021-05-02","cat":"Collectibles","v":6.5},{"date":"2021-05-02","cat":"Game","v":0.24},{"date":"2021-05-02","cat":"DeFi","v":0.9},{"date":"2021-05-02","cat":"Art","v":0.3},{"date":"2021-05-02","cat":"Utility","v":0.51},{"date":"2021-05-02","cat":"Metaverse","v":0.6},{"date":"2021-05-02","cat":"Sports","v":10.95},
{"date":"2021-05-03","cat":"Collectibles","v":7.7},{"date":"2021-05-03","cat":"Game","v":0.32},{"date":"2021-05-03","cat":"DeFi","v":1.2},{"date":"2021-05-03","cat":"Art","v":0.4},{"date":"2021-05-03","cat":"Utility","v":0.68},{"date":"2021-05-03","cat":"Metaverse","v":0.8},{"date":"2021-05-03","cat":"Sports","v":78.9},
{"date":"2021-05-04","cat":"Collectibles","v":7.5},{"date":"2021-05-04","cat":"Game","v":0.36},{"date":"2021-05-04","cat":"DeFi","v":1.35},{"date":"2021-05-04","cat":"Art","v":0.45},{"date":"2021-05-04","cat":"Utility","v":0.77},{"date":"2021-05-04","cat":"Metaverse","v":0.9},{"date":"2021-05-04","cat":"Sports","v":90.67},
{"date":"2021-05-05","cat":"Collectibles","v":7.0},{"date":"2021-05-05","cat":"Game","v":0.32},{"date":"2021-05-05","cat":"DeFi","v":1.2},{"date":"2021-05-05","cat":"Art","v":0.4},{"date":"2021-05-05","cat":"Utility","v":0.68},{"date":"2021-05-05","cat":"Metaverse","v":0.8},{"date":"2021-05-05","cat":"Sports","v":46.6},
{"date":"2021-05-06","cat":"Collectibles","v":6.5},{"date":"2021-05-06","cat":"Game","v":0.28},{"date":"2021-05-06","cat":"DeFi","v":1.05},{"date":"2021-05-06","cat":"Art","v":0.35},{"date":"2021-05-06","cat":"Utility","v":0.6},{"date":"2021-05-06","cat":"Metaverse","v":0.7},{"date":"2021-05-06","cat":"Sports","v":8.52},
{"date":"2021-05-07","cat":"Collectibles","v":5.5},{"date":"2021-05-07","cat":"Game","v":0.28},{"date":"2021-05-07","cat":"DeFi","v":1.05},{"date":"2021-05-07","cat":"Art","v":0.35},{"date":"2021-05-07","cat":"Utility","v":0.6},{"date":"2021-05-07","cat":"Metaverse","v":0.7},{"date":"2021-05-07","cat":"Sports","v":2.02},
{"date":"2021-05-08","cat":"Collectibles","v":5.0},{"date":"2021-05-08","cat":"Game","v":0.28},{"date":"2021-05-08","cat":"DeFi","v":1.05},{"date":"2021-05-08","cat":"Art","v":0.35},{"date":"2021-05-08","cat":"Utility","v":0.6},{"date":"2021-05-08","cat":"Metaverse","v":0.7},{"date":"2021-05-08","cat":"Sports","v":1.52},
{"date":"2021-05-10","cat":"Collectibles","v":4.2},{"date":"2021-05-10","cat":"Game","v":0.28},{"date":"2021-05-10","cat":"DeFi","v":1.05},{"date":"2021-05-10","cat":"Art","v":0.35},{"date":"2021-05-10","cat":"Utility","v":0.6},{"date":"2021-05-10","cat":"Metaverse","v":0.7},{"date":"2021-05-10","cat":"Sports","v":1.32},
{"date":"2021-05-12","cat":"Collectibles","v":3.8},{"date":"2021-05-12","cat":"Game","v":0.28},{"date":"2021-05-12","cat":"DeFi","v":1.05},{"date":"2021-05-12","cat":"Art","v":0.35},{"date":"2021-05-12","cat":"Utility","v":0.6},{"date":"2021-05-12","cat":"Metaverse","v":0.7},{"date":"2021-05-12","cat":"Sports","v":1.02},
{"date":"2021-05-14","cat":"Collectibles","v":3.5},{"date":"2021-05-14","cat":"Game","v":0.28},{"date":"2021-05-14","cat":"DeFi","v":1.05},{"date":"2021-05-14","cat":"Art","v":0.35},{"date":"2021-05-14","cat":"Utility","v":0.6},{"date":"2021-05-14","cat":"Metaverse","v":0.7},{"date":"2021-05-14","cat":"Sports","v":2.52},
{"date":"2021-05-15","cat":"Collectibles","v":3.0},{"date":"2021-05-15","cat":"Game","v":0.24},{"date":"2021-05-15","cat":"DeFi","v":0.9},{"date":"2021-05-15","cat":"Art","v":0.3},{"date":"2021-05-15","cat":"Utility","v":0.51},{"date":"2021-05-15","cat":"Metaverse","v":0.6},{"date":"2021-05-15","cat":"Sports","v":1.45},
{"date":"2021-05-16","cat":"Collectibles","v":2.0},{"date":"2021-05-16","cat":"Game","v":0.12},{"date":"2021-05-16","cat":"DeFi","v":0.45},{"date":"2021-05-16","cat":"Art","v":0.15},{"date":"2021-05-16","cat":"Utility","v":0.26},{"date":"2021-05-16","cat":"Metaverse","v":0.3},{"date":"2021-05-16","cat":"Sports","v":0.72},
{"date":"2021-05-18","cat":"Collectibles","v":1.6},{"date":"2021-05-18","cat":"Game","v":0.08},{"date":"2021-05-18","cat":"DeFi","v":0.3},{"date":"2021-05-18","cat":"Art","v":0.1},{"date":"2021-05-18","cat":"Utility","v":0.17},{"date":"2021-05-18","cat":"Metaverse","v":0.2},{"date":"2021-05-18","cat":"Sports","v":0.55},
{"date":"2021-05-20","cat":"Collectibles","v":1.4},{"date":"2021-05-20","cat":"Game","v":0.08},{"date":"2021-05-20","cat":"DeFi","v":0.3},{"date":"2021-05-20","cat":"Art","v":0.1},{"date":"2021-05-20","cat":"Utility","v":0.17},{"date":"2021-05-20","cat":"Metaverse","v":0.2},{"date":"2021-05-20","cat":"Sports","v":0.25},
{"date":"2021-05-22","cat":"Collectibles","v":1.5},{"date":"2021-05-22","cat":"Game","v":0.12},{"date":"2021-05-22","cat":"DeFi","v":0.45},{"date":"2021-05-22","cat":"Art","v":0.15},{"date":"2021-05-22","cat":"Utility","v":0.26},{"date":"2021-05-22","cat":"Metaverse","v":0.3},{"date":"2021-05-22","cat":"Sports","v":0.42},
{"date":"2021-05-24","cat":"Collectibles","v":1.3},{"date":"2021-05-24","cat":"Game","v":0.08},{"date":"2021-05-24","cat":"DeFi","v":0.3},{"date":"2021-05-24","cat":"Art","v":0.1},{"date":"2021-05-24","cat":"Utility","v":0.17},{"date":"2021-05-24","cat":"Metaverse","v":0.2},{"date":"2021-05-24","cat":"Sports","v":0.25},
{"date":"2021-05-26","cat":"Collectibles","v":1.5},{"date":"2021-05-26","cat":"Game","v":0.08},{"date":"2021-05-26","cat":"DeFi","v":0.3},{"date":"2021-05-26","cat":"Art","v":0.1},{"date":"2021-05-26","cat":"Utility","v":0.17},{"date":"2021-05-26","cat":"Metaverse","v":0.2},{"date":"2021-05-26","cat":"Sports","v":0.65},
{"date":"2021-05-28","cat":"Collectibles","v":1.4},{"date":"2021-05-28","cat":"Game","v":0.08},{"date":"2021-05-28","cat":"DeFi","v":0.3},{"date":"2021-05-28","cat":"Art","v":0.1},{"date":"2021-05-28","cat":"Utility","v":0.17},{"date":"2021-05-28","cat":"Metaverse","v":0.2},{"date":"2021-05-28","cat":"Sports","v":0.35},
{"date":"2021-05-30","cat":"Collectibles","v":1.5},{"date":"2021-05-30","cat":"Game","v":0.12},{"date":"2021-05-30","cat":"DeFi","v":0.45},{"date":"2021-05-30","cat":"Art","v":0.15},{"date":"2021-05-30","cat":"Utility","v":0.26},{"date":"2021-05-30","cat":"Metaverse","v":0.3},{"date":"2021-05-30","cat":"Sports","v":0.42},
{"date":"2021-06-02","cat":"Collectibles","v":1.3},{"date":"2021-06-02","cat":"Game","v":0.08},{"date":"2021-06-02","cat":"DeFi","v":0.3},{"date":"2021-06-02","cat":"Art","v":0.1},{"date":"2021-06-02","cat":"Utility","v":0.17},{"date":"2021-06-02","cat":"Metaverse","v":0.2},{"date":"2021-06-02","cat":"Sports","v":0.35}
      ]},
      "transform": [
        {"calculate": "indexof(['Collectibles','Game','DeFi','Art','Utility','Metaverse','Sports'], datum.cat)", "as": "o"}
      ],
      "encoding": {
        "x": {
          "field": "date", "type": "temporal",
          "scale": {"type": "utc", "nice": false, "domain": [{"year": 2020, "month": 5, "date": 29, "utc": true}, {"year": 2021, "month": 6, "date": 2, "utc": true}]},
          "axis": {
            "title": null, "labelExpr": "utcFormat(datum.value, '%Y-%m-%d')", "labelAngle": -45, "labelOverlap": false,
            "labelColor": "#999999", "labelFontSize": 12, "labelFont": "Open Sans",
            "ticks": false, "domain": false, "grid": false, "labelPadding": 6,
            "values": [
              {"year": 2020, "month": 6, "date": 1, "utc": true},
              {"year": 2020, "month": 7, "date": 1, "utc": true},
              {"year": 2020, "month": 8, "date": 1, "utc": true},
              {"year": 2020, "month": 9, "date": 1, "utc": true},
              {"year": 2020, "month": 10, "date": 1, "utc": true},
              {"year": 2020, "month": 11, "date": 1, "utc": true},
              {"year": 2020, "month": 12, "date": 1, "utc": true},
              {"year": 2021, "month": 1, "date": 1, "utc": true},
              {"year": 2021, "month": 2, "date": 1, "utc": true},
              {"year": 2021, "month": 3, "date": 1, "utc": true},
              {"year": 2021, "month": 4, "date": 1, "utc": true},
              {"year": 2021, "month": 5, "date": 1, "utc": true},
              {"year": 2021, "month": 6, "date": 1, "utc": true}
            ]
          }
        },
        "y": {
          "field": "v", "type": "quantitative", "stack": "zero",
          "scale": {"domain": [0, 110], "nice": false},
          "axis": {
            "title": "Sales ($M)", "titleColor": "#aaaaaa", "titleFontWeight": "normal", "titleFontSize": 13, "titleFont": "Open Sans", "titlePadding": 10,
            "values": [0, 10, 20, 30, 40, 50, 60, 70, 80, 90, 100, 110],
            "labelColor": "#999999", "labelFontSize": 12.5, "labelFont": "Open Sans",
            "gridColor": "#ececec", "domainColor": "#e6e6e6", "tickColor": "#e6e6e6", "tickSize": 5, "labelPadding": 4
          }
        }
      },
      "layer": [
        {
          "mark": {"type": "area", "fillOpacity": 0.72, "line": {"strokeWidth": 0.8}},
          "encoding": {
            "color": {
              "field": "cat", "type": "nominal",
              "scale": {"domain": ["Collectibles", "Game", "DeFi", "Art", "Utility", "Metaverse", "Sports"], "range": ["#6b4f9e", "#215f8c", "#3aa3a8", "#177a55", "#6cb04a", "#efb519", "#dd8a1c"]},
              "legend": {
                "orient": "none", "legendX": -67, "legendY": -35, "direction": "horizontal", "title": null,
                "symbolType": "M-0.45,-1H0.45A0.25,0.25 0 0 1 0.7,-0.75V0.75A0.25,0.25 0 0 1 0.45,1H-0.45A0.25,0.25 0 0 1 -0.7,0.75V-0.75A0.25,0.25 0 0 1 -0.45,-1Z",
                "symbolSize": 169, "symbolOpacity": 1, "symbolStrokeWidth": 0,
                "labelFontSize": 13, "labelColor": "#444444", "labelFont": "Open Sans", "labelOffset": 2.5, "columnPadding": 5, "padding": 0
              }
            },
            "order": {"field": "o", "type": "quantitative"}
          }
        },
        {
          "mark": {"type": "point", "opacity": 0, "color": "#bbbbbb", "filled": false},
          "encoding": {
            "shape": {
              "field": "cat", "type": "nominal",
              "scale": {"domain": ["Sports", "Metaverse", "Utility", "Art", "DeFi", "Game", "Collectibles"], "range": ["M0.5,-1.38L0.5,1.38", "M0.5,-1.38L0.5,1.38", "M0.5,-1.38L0.5,1.38", "M0.5,-1.38L0.5,1.38", "M0.5,-1.38L0.5,1.38", "M0.5,-1.38L0.5,1.38", "M0.5,-1.38L0.5,1.38"]},
              "legend": {
                "orient": "none", "legendX": 449, "legendY": 245, "direction": "vertical", "title": null,
                "symbolSize": 210, "symbolStrokeWidth": 1.5, "symbolOpacity": 1, "symbolStrokeColor": "#bbbbbb", "symbolFillColor": "transparent",
                "labelFont": "Lato", "labelFontWeight": "bold", "labelFontSize": 13.5, "labelOffset": 1, "rowPadding": -8, "padding": 0,
                "labelColor": {"expr": "datum.value == 'Sports' ? '#d98b28' : datum.value == 'Metaverse' ? '#e9b527' : datum.value == 'Utility' ? '#74a953' : datum.value == 'Art' ? '#176b4b' : datum.value == 'DeFi' ? '#45a0b3' : datum.value == 'Game' ? '#24587c' : '#6b4f9e'"}
              }
            }
          }
        }
      ]
    }
  ]
}
